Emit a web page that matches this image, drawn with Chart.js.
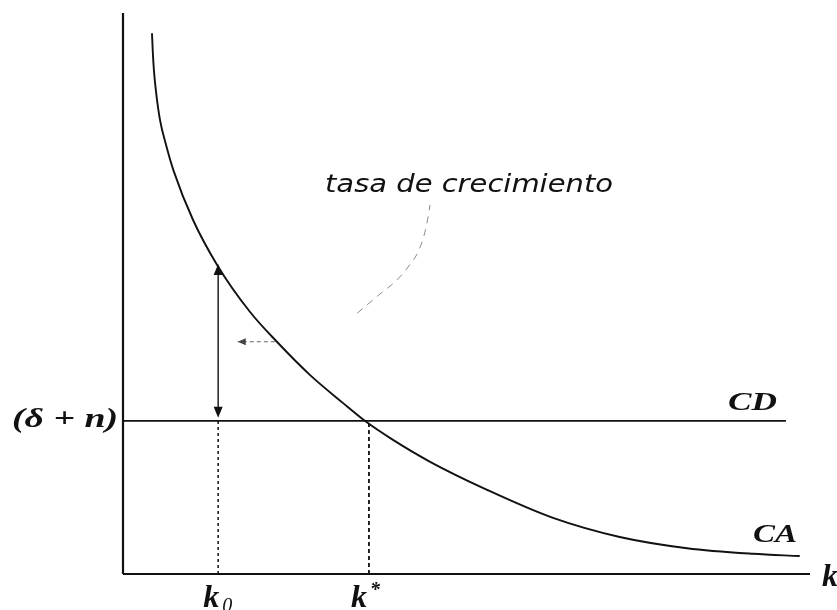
<!DOCTYPE html>
<html>
<head>
<meta charset="utf-8">
<script src="https://cdn.jsdelivr.net/npm/chart.js@4.4.1/dist/chart.umd.min.js"></script>
<style>
  html, body { margin: 0; padding: 0; background: #fff; }
  canvas { display: block; }
</style>
</head>
<body>
<canvas id="chart-solow" width="837" height="610"></canvas>
<script>
// curva de ahorro (CA)
const kVals  = [4.22, 4.34, 4.50, 4.83, 5.39, 6.26, 7.33, 10.2, 13.7, 18.5, 22.4, 27.2, 32.0, 35.2, 39.3, 44.7, 53.0, 62.6, 72.3, 82.1, 91.7, 98.5];
const caVals = [96.4, 93.0, 89.8, 85.7, 80.9, 76.5, 72.0, 63.1, 55.1, 46.7, 41.4, 35.5, 30.5, 27.3, 23.9, 20.0, 15.0, 10.0, 6.6, 4.6, 3.6, 3.2];

// curva de depreciación (CD) y puntos clave
const cdLevel = 27.3;
const cdRange = [0, 96.5];
const k0      = 13.85;
const kStar   = 35.8;
const caAtK0  = 55.1;

// flecha horizontal discontinua
const leftArrowK = [22.1, 16.7];
const leftArrowY = 41.4;

// arco discontinuo que señala la tasa de crecimiento
const arcK = [34.1, 37.4, 39.7, 41.6, 43.1, 44.1, 44.7];
const arcY = [46.5, 49.9, 52.2, 54.9, 57.8, 61.7, 65.8];

const pts = (xs, ys) => xs.map((x, i) => ({ x, y: ys[i] }));

const INK  = '#111';
const GRAY = '#8a8a8a';

function line(data, opts) {
  return Object.assign({
    data, showLine: true, pointRadius: 0, borderColor: INK, borderWidth: 1.6,
    fill: false, clip: false,
  }, opts || {});
}

function fitText(ctx, str, font, x, y, w, align) {
  ctx.font = font;
  const m = ctx.measureText(str).width;
  const s = w ? w / m : 1;
  ctx.save();
  ctx.translate(x, y);
  ctx.scale(s, 1);
  ctx.textAlign = 'left';
  const x0 = align === 'right' ? -m : align === 'center' ? -m / 2 : 0;
  ctx.fillText(str, x0, 0);
  ctx.restore();
}

function arrowHead(ctx, x, y, dx, dy, len, half, color) {
  ctx.save();
  ctx.fillStyle = color;
  ctx.beginPath();
  ctx.moveTo(x, y);
  ctx.lineTo(x - dx * len - dy * half, y - dy * len + dx * half);
  ctx.lineTo(x - dx * len + dy * half, y - dy * len - dx * half);
  ctx.closePath();
  ctx.fill();
  ctx.restore();
}

const labelsPlugin = {
  id: 'solowLabels',
  afterDatasetsDraw(chart) {
    const { ctx, scales: { x, y } } = chart;
    const px = v => x.getPixelForValue(v);
    const py = v => y.getPixelForValue(v);

    // puntas de flecha
    arrowHead(ctx, px(k0), py(caAtK0) - 1, 0, -1, 11, 4.5, INK);
    arrowHead(ctx, px(k0), py(cdLevel) - 3, 0, 1, 11, 4.5, INK);
    arrowHead(ctx, px(leftArrowK[1]), py(leftArrowY), -1, 0, 8, 3.5, '#444');

    ctx.fillStyle = INK;
    const serifBI = sz => `bold italic ${sz}px "Liberation Serif"`;

    // (δ + n)
    ctx.textBaseline = 'middle';
    fitText(ctx, '(δ + n)', serifBI(28), px(0) - 5, py(cdLevel) - 1, 106, 'right');
    ctx.textBaseline = 'alphabetic';

    fitText(ctx, 'CD', serifBI(26), 728, py(cdLevel) - 11, 49, 'left');
    fitText(ctx, 'CA', serifBI(26), 753, 542, 44, 'left');
    fitText(ctx, 'k', serifBI(32), px(100) + 12, py(0) + 12, null, 'left');

    // k0 y k*
    fitText(ctx, 'k', serifBI(32), px(k0) - 15, py(0) + 33, null, 'left');
    fitText(ctx, '0', 'italic 20px "Liberation Serif"', px(k0) + 4, py(0) + 38, null, 'left');
    fitText(ctx, 'k', serifBI(32), px(kStar) - 18, py(0) + 33, null, 'left');
    fitText(ctx, '*', serifBI(20), px(kStar) + 1, py(0) + 22, null, 'left');

    fitText(ctx, 'tasa de crecimiento', 'italic 25px "DejaVu Sans"', 325, 192, 288, 'left');
  }
};

new Chart(document.getElementById('chart-solow').getContext('2d'), {
  type: 'scatter',
  data: {
    datasets: [
      // ejes
      line([{ x: 0, y: 0 }, { x: 0, y: 100 }], { borderWidth: 2.2 }),
      line([{ x: 0, y: 0 }, { x: 100, y: 0 }], { borderWidth: 2.2 }),
      // CD
      line(cdRange.map(k => ({ x: k, y: cdLevel })), { borderWidth: 1.8 }),
      // CA
      line(pts(kVals, caVals), { cubicInterpolationMode: 'monotone', borderWidth: 1.9 }),
      // guías verticales
      line([{ x: k0, y: 0 }, { x: k0, y: cdLevel }], { borderWidth: 1.5, borderDash: [3, 3] }),
      line([{ x: kStar, y: 0 }, { x: kStar, y: cdLevel }], { borderWidth: 1.8, borderDash: [4, 3] }),
      // flecha doble en k0
      line([{ x: k0, y: cdLevel + 1.5 }, { x: k0, y: caAtK0 - 1.5 }], { borderWidth: 1.4 }),
      // flecha horizontal
      line(leftArrowK.map(k => ({ x: k, y: leftArrowY })), { borderColor: '#666', borderWidth: 1, borderDash: [4, 3] }),
      // arco
      line(pts(arcK, arcY), { borderColor: GRAY, borderWidth: 1, borderDash: [7, 6], cubicInterpolationMode: 'monotone' }),
    ],
  },
  options: {
    responsive: false,
    animation: false,
    devicePixelRatio: 1,
    layout: { padding: { left: 123, right: 27, top: 13, bottom: 36 } },
    plugins: { legend: { display: false }, tooltip: { enabled: false } },
    scales: {
      x: { type: 'linear', min: 0, max: 100, display: false },
      y: { type: 'linear', min: 0, max: 100, display: false },
    },
  },
  plugins: [labelsPlugin],
});
</script>
</body>
</html>
